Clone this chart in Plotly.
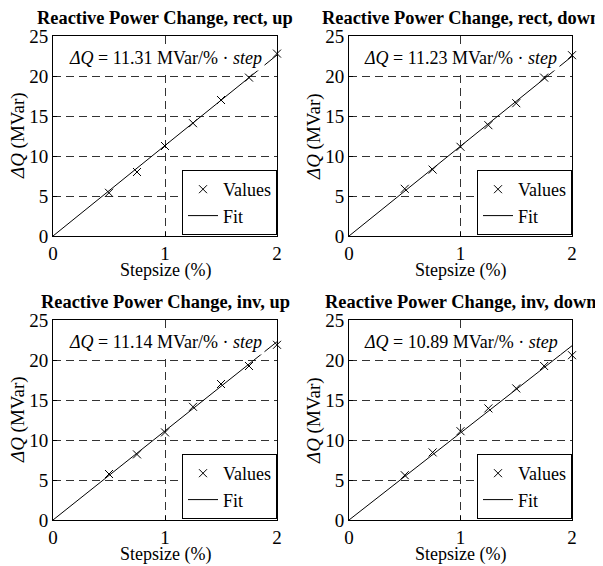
import plotly.graph_objects as go

# ---- data ----
step_x = [0.5, 0.75, 1.0, 1.25, 1.5, 1.75, 2.0]
titles = ["Reactive Power Change, rect, up", "Reactive Power Change, rect, down",
          "Reactive Power Change, inv, up", "Reactive Power Change, inv, down"]
vals_rect_up = [5.4, 8.0, 11.25, 14.1, 17.0, 19.8, 22.8]
vals_rect_down = [5.9, 8.3, 11.15, 13.85, 16.6, 19.8, 22.6]
vals_inv_up = [5.75, 8.2, 10.95, 14.15, 17.0, 19.25, 21.9]
vals_inv_down = [5.6, 8.45, 11.1, 13.95, 16.45, 19.25, 20.6]
slopes = ["11.31", "11.23", "11.14", "10.89"]
fit_x = [0, 2]
fit_rect_up = [0, 22.62]
fit_rect_down = [0, 22.46]
fit_inv_up = [0, 22.28]
fit_inv_down = [0, 21.78]
x_ticks = [0, 1, 2]
y_ticks = [0, 5, 10, 15, 20, 25]

values = [vals_rect_up, vals_rect_down, vals_inv_up, vals_inv_down]
fits = [fit_rect_up, fit_rect_down, fit_inv_up, fit_inv_down]

# the page body has an 8px margin, so the figure is drawn 8px in from the window corner
OFF = 8
W, H = 603 - OFF, 566 - OFF
FONT = "Liberation Serif"
FS = 18

# panel pixel boxes in window coordinates (left, right, top, bottom)
boxes = [(53, 277, 36, 236), (349, 572, 36, 236), (53, 277, 320, 520), (349, 572, 320, 520)]


def px(v):
    return (v - OFF) / W


def py(v):
    return 1 - (v - OFF) / H


fig = go.Figure()
layout = dict(
    width=W, height=H, margin=dict(l=0, r=0, t=0, b=0, pad=0, autoexpand=False),
    paper_bgcolor="white", plot_bgcolor="white",
    font=dict(family=FONT, size=FS, color="black"),
    showlegend=True,
)
annotations = []

for i in range(4):
    n = "" if i == 0 else str(i + 1)
    xa, ya = "x" + n, "y" + n
    leg = "legend" + n
    L, R, T, B = boxes[i]
    fig.add_trace(go.Scatter(
        x=step_x, y=values[i], mode="markers", name="Values",
        marker=dict(symbol="x-thin", size=8, line=dict(width=1, color="black"), color="black"),
        xaxis=xa, yaxis=ya, legend=leg, cliponaxis=False))
    fig.add_trace(go.Scatter(
        x=fit_x, y=fits[i], mode="lines", name="Fit",
        line=dict(color="black", width=1),
        xaxis=xa, yaxis=ya, legend=leg))
    axcommon = dict(showline=True, mirror=True, linecolor="black", linewidth=1,
                    ticks="inside", ticklen=4, tickcolor="black", zeroline=False,
                    showgrid=True, gridcolor="#333", griddash="8px,5px", gridwidth=1,
                    automargin=False,
                    tickfont=dict(family=FONT, size=19, color="black"))
    layout["xaxis" + n] = dict(axcommon, domain=[px(L), px(R)], range=[0, 2], tickvals=x_ticks,
                               anchor=ya, ticklabelstandoff=0)
    layout["yaxis" + n] = dict(axcommon, domain=[py(B), py(T)], range=[0, 25], tickvals=y_ticks,
                               anchor=xa, ticklabelstandoff=0)
    layout[leg] = dict(x=px(R), y=py(B - 1), xanchor="right", yanchor="bottom",
                       bgcolor="white", bordercolor="black", borderwidth=1,
                       font=dict(family=FONT, size=FS, color="black"),
                       itemwidth=30, tracegroupgap=0)
    # title
    annotations.append(dict(text="<b>" + titles[i] + "</b>", x=px((L + R) / 2), y=py(T - 18),
                            xref="paper", yref="paper", showarrow=False, xanchor="center", yanchor="middle",
                            font=dict(family=FONT, size=18.4, color="black")))
    # x title
    annotations.append(dict(text="Stepsize (%)", x=px((L + R) / 2), y=py(B + 34),
                            xref="paper", yref="paper", showarrow=False, xanchor="center", yanchor="middle",
                            font=dict(family=FONT, size=FS, color="black")))
    # y title
    annotations.append(dict(text="<i>ΔQ</i> (MVar)", x=px(L - 35), y=py((T + B) / 2),
                            xref="paper", yref="paper", showarrow=False, xanchor="center", yanchor="middle",
                            textangle=-90, font=dict(family=FONT, size=FS + 1, color="black")))
    # formula
    annotations.append(dict(text="<i>ΔQ</i> = " + slopes[i] + " MVar/% · <i>step</i>", x=1.0, y=22.2,
                            xref=xa, yref=ya, showarrow=False, xanchor="center", yanchor="middle",
                            bgcolor="white", borderpad=2,
                            font=dict(family=FONT, size=FS, color="black")))

layout["annotations"] = annotations
fig.update_layout(**layout)
fig.write_html("out.html")
